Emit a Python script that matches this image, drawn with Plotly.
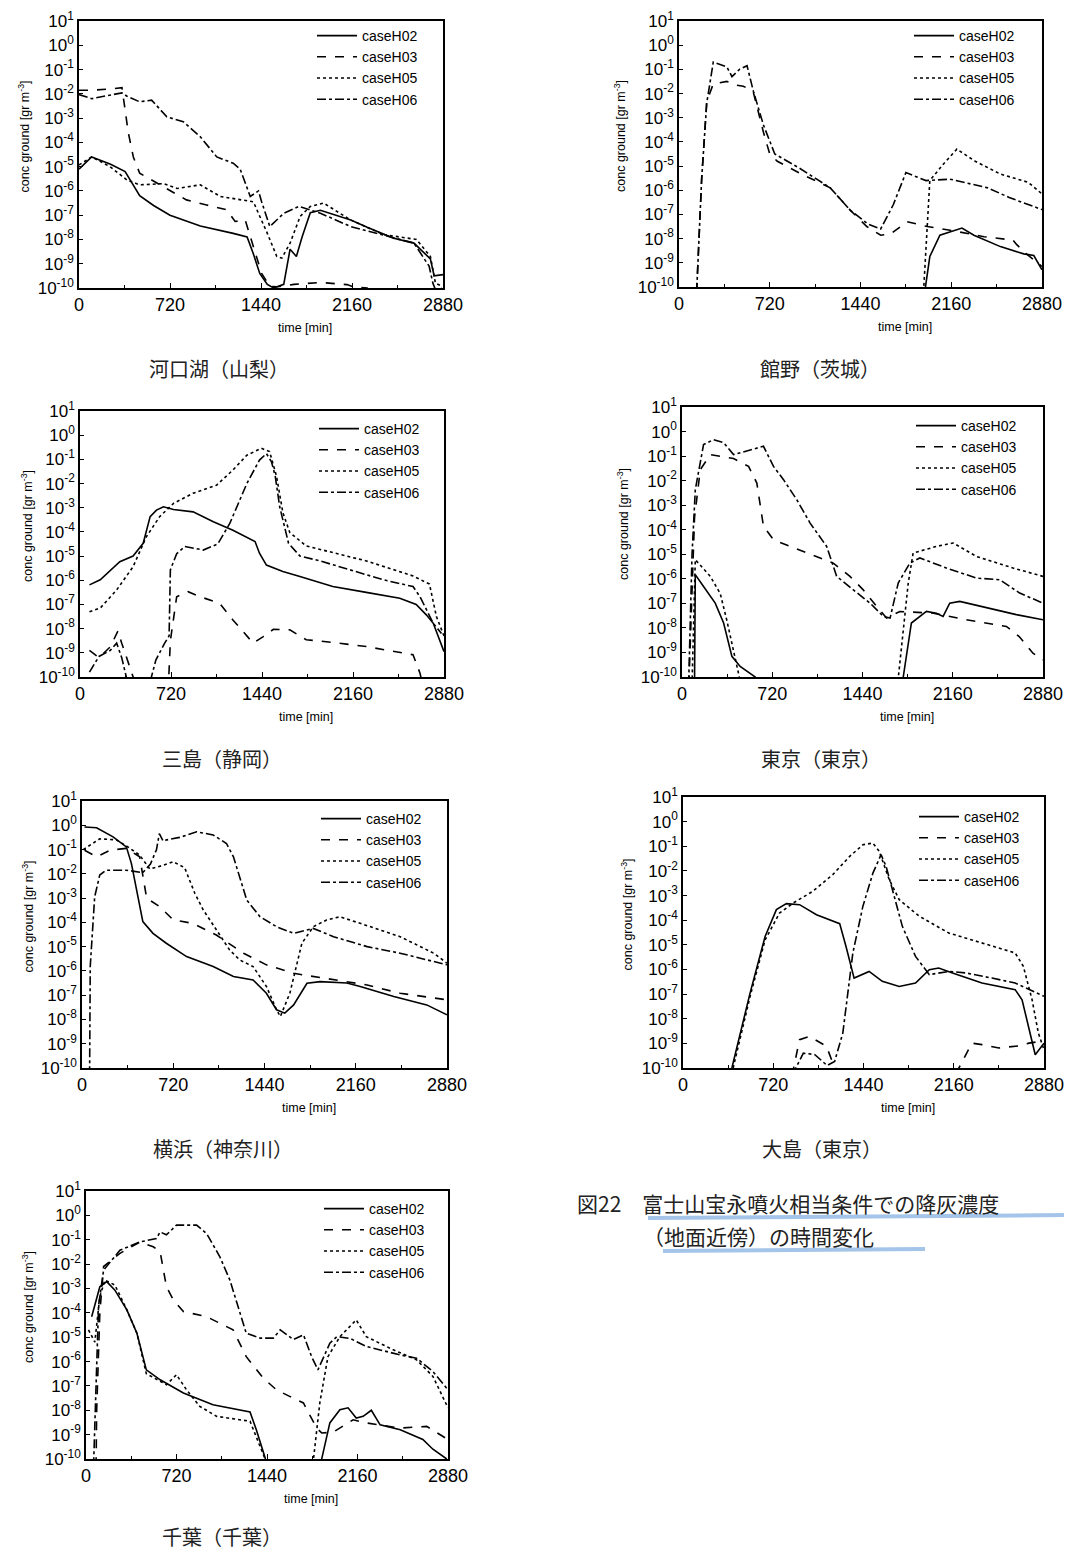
import plotly.graph_objects as go

# page body has an 8px default margin; figure is sized/offset so the window shows 1072x1555
OX, OY = 8, 8
FW, FH = 1064, 1547

# ---------------- data (time in min, log10 of concentration [gr m^-3]) ----------------
# 河口湖（山梨）
kaw_h02_t = [0, 100, 250, 365, 480, 590, 720, 960, 1220, 1330, 1380, 1430, 1490, 1540, 1620, 1670, 1720, 1765, 1830, 1910, 2150, 2280, 2490, 2650, 2780, 2810, 2880]
kaw_h02_log = [-5.1, -4.6, -4.9, -5.2, -6.2, -6.6, -7.0, -7.45, -7.75, -7.9, -8.6, -9.4, -9.85, -10.0, -9.85, -8.4, -8.7, -7.9, -6.9, -6.8, -7.2, -7.5, -7.95, -8.15, -8.8, -9.5, -9.45]
kaw_h03_t = [0, 100, 250, 340, 390, 430, 480, 575, 750, 850, 1010, 1170, 1235, 1315, 1380, 1445, 1510, 1570, 1700, 1910, 2120, 2170, 2280, 2320]
kaw_h03_log = [-1.85, -1.85, -1.8, -1.75, -3.6, -4.6, -5.27, -5.55, -6.1, -6.37, -6.58, -6.78, -7.26, -7.2, -8.3, -9.4, -9.93, -9.95, -9.85, -9.77, -9.86, -9.95, -10.0, -10.3]
kaw_h05_t = [0, 100, 245, 380, 480, 670, 775, 960, 1120, 1300, 1380, 1490, 1565, 1605, 1670, 1750, 1830, 1935, 2150, 2410, 2670, 2780, 2820, 2860, 2880]
kaw_h05_log = [-4.93, -4.6, -5.0, -5.55, -5.75, -5.7, -5.9, -5.75, -6.23, -6.37, -6.45, -7.75, -8.7, -8.77, -8.15, -7.05, -6.64, -6.5, -7.2, -7.8, -8.0, -8.7, -9.8, -9.9, -10.2]
kaw_h06_t = [0, 100, 340, 380, 480, 575, 695, 825, 960, 1090, 1220, 1275, 1355, 1420, 1445, 1510, 1620, 1740, 1910, 2150, 2280, 2490, 2650, 2770, 2800, 2830]
kaw_h06_log = [-2.03, -2.2, -1.96, -2.1, -2.33, -2.26, -2.95, -3.15, -3.77, -4.6, -4.86, -5.1, -6.23, -6.0, -6.45, -7.47, -6.92, -6.64, -6.92, -7.47, -7.65, -7.95, -8.15, -9.1, -9.8, -10.2]

# 館野（茨城）
tat_h02_t = [1950, 1990, 2070, 2150, 2245, 2340, 2550, 2735, 2815, 2880]
tat_h02_log = [-10.2, -8.74, -7.86, -7.72, -7.56, -7.86, -8.33, -8.63, -8.7, -9.29]
tat_h03_t = [140, 180, 220, 272, 380, 450, 510, 550, 590, 670, 720, 780, 960, 1200, 1360, 1490, 1600, 1680, 1810, 1970, 2150, 2420, 2650, 2680, 2750, 2880]
tat_h03_log = [-10.2, -5.5, -2.34, -1.6, -1.5, -1.65, -1.7, -1.8, -1.95, -3.6, -4.5, -4.8, -5.3, -5.9, -6.83, -7.5, -7.86, -7.8, -7.3, -7.5, -7.65, -7.92, -8.06, -8.25, -8.6, -9.15]
tat_h05_t = [1940, 1965, 1990, 2100, 2205, 2350, 2550, 2770, 2880]
tat_h05_log = [-10.2, -8.0, -5.6, -4.9, -4.3, -4.8, -5.33, -5.67, -6.15]
tat_h06_t = [140, 180, 220, 272, 380, 420, 480, 540, 590, 670, 760, 960, 1200, 1360, 1500, 1600, 1700, 1800, 1960, 2150, 2450, 2620, 2880]
tat_h06_log = [-10.2, -5.5, -2.4, -0.7, -0.9, -1.3, -1.0, -0.85, -1.9, -3.3, -4.5, -5.1, -5.9, -6.83, -7.4, -7.6, -6.6, -5.27, -5.6, -5.54, -5.9, -6.3, -6.8]

# 三島（静岡）
mis_h02_t = [75, 160, 315, 380, 420, 500, 555, 605, 660, 740, 895, 1055, 1210, 1385, 1420, 1475, 1605, 1740, 2000, 2265, 2530, 2660, 2740, 2795, 2835, 2880]
mis_h02_log = [-6.19, -5.98, -5.23, -5.1, -5.0, -4.47, -3.37, -3.1, -2.96, -3.07, -3.17, -3.58, -3.93, -4.4, -4.88, -5.37, -5.64, -5.84, -6.26, -6.5, -6.74, -7.0, -7.43, -7.78, -8.3, -8.95]
mis_h03_t = [75, 150, 240, 300, 330, 395, 440, 700, 715, 765, 855, 950, 1105, 1210, 1370, 1450, 1530, 1660, 1790, 2000, 2265, 2635, 2690, 2710]
mis_h03_log = [-8.9, -9.2, -8.75, -8.1, -8.6, -9.6, -10.3, -10.3, -8.5, -6.68, -6.47, -6.68, -6.95, -7.64, -8.6, -8.33, -8.03, -8.05, -8.46, -8.57, -8.74, -9.08, -9.84, -10.3]
mis_h05_t = [75, 160, 290, 420, 525, 630, 740, 895, 1080, 1210, 1320, 1435, 1500, 1555, 1605, 1660, 1790, 2000, 2265, 2635, 2765, 2820, 2880]
mis_h05_log = [-7.3, -7.15, -6.4, -5.44, -4.2, -3.37, -2.82, -2.4, -2.07, -1.44, -0.83, -0.54, -0.68, -1.7, -3.2, -4.03, -4.58, -4.85, -5.2, -5.82, -6.16, -7.5, -8.3]
mis_h06_t = [75, 150, 240, 290, 330, 380, 550, 600, 670, 705, 715, 765, 830, 975, 1090, 1185, 1320, 1420, 1475, 1515, 1545, 1580, 1650, 1740, 1900, 2135, 2400, 2635, 2690, 2795, 2860]
mis_h06_log = [-9.8, -9.15, -8.9, -8.6, -9.2, -10.3, -10.3, -9.3, -8.6, -8.3, -5.57, -4.9, -4.6, -4.75, -4.5, -3.65, -2.0, -1.03, -0.76, -1.1, -1.7, -2.96, -4.47, -5.0, -5.2, -5.57, -5.98, -6.26, -6.68, -7.78, -8.2]

# 東京（東京）
tok_h02_t = [100, 106, 172, 265, 332, 398, 464, 544, 584, 600, 1760, 1765, 1830, 1950, 2030, 2083, 2136, 2216, 2400, 2667, 2880]
tok_h02_log = [-10.3, -5.83, -6.31, -6.99, -7.8, -9.16, -9.57, -9.84, -10.0, -10.3, -10.3, -10.0, -7.8, -7.33, -7.4, -7.53, -6.99, -6.92, -7.13, -7.46, -7.67]
tok_h03_t = [55, 100, 146, 226, 411, 531, 597, 650, 730, 942, 1207, 1340, 1446, 1553, 1632, 1738, 2004, 2269, 2588, 2690, 2800, 2880]
tok_h03_log = [-10.3, -3.5, -1.55, -0.94, -1.1, -1.42, -2.1, -3.86, -4.41, -4.82, -5.36, -5.9, -6.45, -7.12, -7.6, -7.33, -7.4, -7.67, -7.94, -8.35, -9.03, -9.3]
tok_h05_t = [80, 106, 226, 305, 358, 398, 438, 470, 1720, 1805, 1844, 2030, 2163, 2349, 2641, 2880]
tok_h05_log = [-10.3, -5.22, -5.9, -6.6, -7.7, -8.65, -9.57, -10.3, -10.3, -6.17, -4.95, -4.68, -4.54, -5.09, -5.56, -5.9]
tok_h06_t = [53, 80, 106, 172, 252, 332, 411, 517, 650, 730, 810, 916, 1022, 1154, 1234, 1367, 1500, 1606, 1660, 1725, 1818, 1898, 2110, 2349, 2535, 2694, 2880]
tok_h06_log = [-10.3, -5.0, -2.37, -0.53, -0.33, -0.45, -0.94, -0.8, -0.6, -1.42, -1.96, -2.78, -3.73, -4.68, -5.9, -6.45, -6.99, -7.53, -7.6, -6.17, -5.36, -5.15, -5.56, -5.97, -6.04, -6.58, -6.99]

# 横浜（神奈川）
yok_h02_t = [20, 115, 245, 350, 390, 430, 480, 560, 665, 825, 1035, 1195, 1350, 1455, 1535, 1600, 1670, 1775, 1880, 2090, 2195, 2460, 2720, 2880]
yok_h02_log = [-0.07, -0.1, -0.48, -0.89, -1.58, -2.67, -3.97, -4.45, -4.86, -5.41, -5.82, -6.23, -6.37, -6.92, -7.6, -7.74, -7.4, -6.51, -6.44, -6.5, -6.64, -7.05, -7.4, -7.81]
yok_h03_t = [20, 115, 220, 350, 455, 480, 510, 615, 720, 875, 1060, 1275, 1455, 1670, 1985, 2250, 2510, 2880]
yok_h03_log = [-1.03, -1.3, -1.03, -0.95, -1.3, -2.0, -3.0, -3.36, -3.9, -4.04, -4.52, -5.27, -5.75, -6.1, -6.37, -6.58, -6.92, -7.19]
yok_h05_t = [10, 140, 270, 365, 455, 535, 640, 720, 810, 890, 955, 1060, 1165, 1245, 1350, 1455, 1535, 1565, 1640, 1735, 1825, 1930, 2035, 2195, 2510, 2775, 2880]
yok_h05_log = [-1.0, -0.56, -0.6, -0.9, -1.23, -1.8, -1.65, -1.5, -1.75, -2.8, -3.47, -4.3, -5.14, -5.55, -5.82, -6.64, -7.6, -7.88, -6.92, -4.86, -4.18, -3.9, -3.77, -4.04, -4.59, -5.27, -5.68]
yok_h06_t = [60, 65, 100, 140, 190, 350, 480, 540, 588, 610, 640, 670, 770, 905, 1035, 1140, 1195, 1245, 1300, 1405, 1535, 1670, 1825, 1985, 2250, 2510, 2775, 2880]
yok_h06_log = [-10.3, -5.82, -2.95, -2.05, -1.85, -1.85, -1.95, -1.6, -1.0, -0.34, -0.65, -0.6, -0.5, -0.27, -0.4, -0.75, -1.3, -2.12, -3.08, -3.77, -4.18, -4.45, -4.25, -4.59, -5.0, -5.27, -5.62, -5.75]

# 大島（東京）
osh_h02_t = [390, 535, 655, 745, 825, 930, 1065, 1250, 1300, 1365, 1485, 1590, 1725, 1855, 1965, 2040, 2150, 2385, 2650, 2705, 2810, 2880]
osh_h02_log = [-10.0, -6.96, -4.66, -3.57, -3.33, -3.37, -3.78, -4.14, -5.06, -6.35, -6.08, -6.48, -6.69, -6.55, -6.01, -5.94, -6.14, -6.55, -6.82, -7.23, -9.46, -8.99]
osh_h03_t = [870, 930, 1010, 1145, 1195, 1250, 2170, 2305, 2385, 2520, 2680, 2760, 2880]
osh_h03_log = [-10.3, -8.85, -8.72, -9.12, -9.8, -10.3, -10.3, -8.99, -9.05, -9.19, -9.1, -8.99, -8.9]
osh_h05_t = [400, 535, 655, 770, 880, 1035, 1195, 1330, 1435, 1515, 1565, 1645, 1725, 1885, 2120, 2385, 2650, 2715, 2785, 2835, 2880]
osh_h05_log = [-10.0, -7.1, -4.8, -3.71, -3.3, -2.83, -2.15, -1.41, -0.94, -0.87, -1.2, -2.35, -3.17, -3.84, -4.52, -4.93, -5.33, -5.87, -7.23, -8.58, -9.26]
osh_h06_t = [870, 960, 1050, 1150, 1210, 1275, 1355, 1435, 1515, 1580, 1620, 1670, 1750, 1855, 1965, 2120, 2255, 2465, 2650, 2880]
osh_h06_log = [-10.3, -9.4, -9.45, -9.9, -9.73, -8.58, -5.33, -3.44, -2.09, -1.34, -1.81, -2.76, -4.25, -5.47, -6.21, -6.08, -6.14, -6.35, -6.55, -7.09]

# 千葉（千葉）
chi_h02_t = [45, 110, 165, 230, 325, 405, 480, 590, 775, 1010, 1305, 1355, 1425, 1440, 1870, 1875, 1940, 2020, 2085, 2150, 2205, 2270, 2340, 2500, 2680, 2760, 2870]
chi_h02_log = [-4.16, -2.93, -2.72, -3.07, -3.88, -4.84, -6.34, -6.75, -7.29, -7.77, -8.07, -8.8, -9.95, -10.3, -10.3, -10.0, -8.52, -7.98, -7.9, -8.32, -8.25, -8.0, -8.6, -8.8, -9.2, -9.6, -10.0]
chi_h03_t = [80, 85, 110, 140, 270, 430, 535, 590, 640, 695, 775, 960, 1170, 1275, 1410, 1515, 1620, 1730, 1835, 1875, 1965, 2125, 2230, 2500, 2710, 2880]
chi_h03_log = [-10.3, -8.0, -4.0, -2.1, -1.56, -1.09, -1.29, -1.5, -2.93, -3.47, -3.95, -4.16, -4.7, -5.8, -6.68, -7.16, -7.43, -7.7, -8.73, -8.93, -8.9, -8.39, -8.52, -8.73, -8.66, -9.2]
chi_h05_t = [20, 70, 110, 150, 230, 325, 405, 480, 640, 720, 800, 905, 1040, 1305, 1425, 1440, 1800, 1810, 1860, 1925, 2020, 2150, 2230, 2445, 2630, 2760, 2880]
chi_h05_log = [-4.7, -5.2, -3.34, -2.66, -2.86, -3.88, -4.84, -6.5, -6.95, -6.54, -7.16, -7.84, -8.25, -8.45, -10.0, -10.3, -10.3, -10.0, -7.7, -5.8, -4.98, -4.29, -4.98, -5.52, -5.93, -6.61, -7.9]
chi_h06_t = [60, 100, 140, 270, 430, 560, 590, 640, 720, 880, 960, 1065, 1145, 1225, 1275, 1385, 1490, 1545, 1650, 1730, 1795, 1845, 1940, 1995, 2100, 2230, 2500, 2630, 2760, 2880]
chi_h06_log = [-10.3, -3.7, -2.25, -1.43, -1.09, -0.95, -0.68, -0.8, -0.4, -0.4, -0.75, -1.7, -2.66, -4.02, -4.84, -5.04, -5.04, -4.7, -5.1, -4.9, -5.8, -6.34, -5.25, -4.98, -5.05, -5.38, -5.73, -5.86, -6.41, -7.16]

series_names = ["caseH02", "caseH03", "caseH05", "caseH06"]
x_tick_vals = [0, 720, 1440, 2160, 2880]
x_minor_vals = [360, 1080, 1800, 2520]
y_exponents = list(range(-10, 2))
station_titles = ["河口湖（山梨）", "館野（茨城）", "三島（静岡）", "東京（東京）",
                  "横浜（神奈川）", "大島（東京）", "千葉（千葉）"]
caption_line1 = "図22　富士山宝永噴火相当条件での降灰濃度"
caption_line2 = "（地面近傍）の時間変化"

# ---------------- layout geometry (window pixels) ----------------
panel_data = [
    [(kaw_h02_t, kaw_h02_log), (kaw_h03_t, kaw_h03_log), (kaw_h05_t, kaw_h05_log), (kaw_h06_t, kaw_h06_log)],
    [(tat_h02_t, tat_h02_log), (tat_h03_t, tat_h03_log), (tat_h05_t, tat_h05_log), (tat_h06_t, tat_h06_log)],
    [(mis_h02_t, mis_h02_log), (mis_h03_t, mis_h03_log), (mis_h05_t, mis_h05_log), (mis_h06_t, mis_h06_log)],
    [(tok_h02_t, tok_h02_log), (tok_h03_t, tok_h03_log), (tok_h05_t, tok_h05_log), (tok_h06_t, tok_h06_log)],
    [(yok_h02_t, yok_h02_log), (yok_h03_t, yok_h03_log), (yok_h05_t, yok_h05_log), (yok_h06_t, yok_h06_log)],
    [(osh_h02_t, osh_h02_log), (osh_h03_t, osh_h03_log), (osh_h05_t, osh_h05_log), (osh_h06_t, osh_h06_log)],
    [(chi_h02_t, chi_h02_log), (chi_h03_t, chi_h03_log), (chi_h05_t, chi_h05_log), (chi_h06_t, chi_h06_log)],
]
# plot boxes: (left, right, top, bottom)
boxes = [(79, 443, 21, 288), (679, 1042, 21, 287),
         (80, 444, 411, 677), (682, 1043, 407, 677),
         (82, 447, 801, 1068), (683, 1044, 797, 1068),
         (86, 448, 1191, 1459)]
legend_pos = [(312, 20), (909, 20), (314, 413), (911, 410), (316, 803), (914, 801), (319, 1193)]
title_pos = [(219, 368), (820, 368), (222, 758), (821, 758), (223, 1148), (822, 1148), (222, 1536)]
ytitle_x = [23, 620, 27, 623, 27, 626, 28]

dashes = ["solid", "dash", "dot", "dashdot"]
FONT = "Liberation Sans, Arial, sans-serif"
CJK = "Noto Sans CJK JP"


def px(x):
    return (x - OX) / FW


def py(y):
    return 1 - (y - OY) / FH


fig = go.Figure()
layout = dict(width=FW, height=FH,
              margin=dict(l=0, r=0, t=0, b=0, pad=0, autoexpand=False),
              paper_bgcolor="white", plot_bgcolor="white",
              font=dict(family=FONT, color="black"))
annotations = []

for i, (series, box) in enumerate(zip(panel_data, boxes)):
    n = i + 1
    sfx = "" if n == 1 else str(n)
    leg = "legend" if n == 1 else f"legend{n}"
    for name, dash, (t, lg) in zip(series_names, dashes, series):
        fig.add_trace(go.Scatter(
            x=t, y=[10 ** v for v in lg], mode="lines", name=name,
            line=dict(color="black", width=1.6, dash=dash),
            xaxis=f"x{sfx}", yaxis=f"y{sfx}", legend=leg, showlegend=True))
    l, r, t0, b = box
    layout[f"xaxis{sfx}"] = dict(
        domain=[px(l), px(r)], anchor=f"y{sfx}", range=[0, 2880], automargin=False,
        tickvals=x_tick_vals, ticktext=[str(v) for v in x_tick_vals],
        ticks="inside", ticklen=5, tickwidth=1.2, tickcolor="black",
        minor=dict(tickvals=x_minor_vals, ticks="inside", ticklen=3, tickcolor="black"),
        showline=True, linecolor="black", linewidth=1.6, mirror=True,
        showgrid=False, zeroline=False, ticklabeloverflow="allow",
        tickfont=dict(size=18, family=FONT, color="black"))
    layout[f"yaxis{sfx}"] = dict(
        domain=[py(b), py(t0)], anchor=f"x{sfx}", type="log", range=[-10, 1], automargin=False,
        tickvals=[10.0 ** k for k in y_exponents],
        ticktext=[f"10<sup>{k}</sup>" for k in y_exponents],
        ticks="inside", ticklen=4, tickwidth=1.2, tickcolor="black",
        showline=True, linecolor="black", linewidth=1.6, mirror=True,
        showgrid=False, zeroline=False, ticklabeloverflow="allow",
        tickfont=dict(size=17, family=FONT, color="black"))
    lx, ly = legend_pos[i]
    layout[leg] = dict(x=px(lx), y=py(ly), xanchor="left", yanchor="top",
                       bgcolor="rgba(0,0,0,0)", borderwidth=0,
                       font=dict(size=14, family=FONT, color="black"),
                       tracegroupgap=0, itemwidth=40)
    # axis titles
    annotations.append(dict(
        x=px(ytitle_x[i]), y=py((t0 + b) / 2 - 18), xref="paper", yref="paper",
        text="conc ground [gr m<sup>-3</sup>]", textangle=-90, showarrow=False,
        font=dict(size=12.5, family=FONT, color="black"), xanchor="center", yanchor="middle"))
    annotations.append(dict(
        x=px((l + r) / 2 + 44), y=py(b + 40), xref="paper", yref="paper",
        text="time [min]", showarrow=False,
        font=dict(size=12.5, family=FONT, color="black"), xanchor="center", yanchor="middle"))
    tx, ty = title_pos[i]
    annotations.append(dict(
        x=px(tx), y=py(ty), xref="paper", yref="paper", text=station_titles[i],
        showarrow=False, font=dict(size=20, family=CJK, color="#222"),
        xanchor="center", yanchor="middle"))

# figure caption
annotations.append(dict(x=px(575), y=py(1203), xref="paper", yref="paper",
                        text=caption_line1, showarrow=False, xanchor="left", yanchor="middle",
                        font=dict(size=21, family=CJK, color="#222")))
annotations.append(dict(x=px(641), y=py(1236), xref="paper", yref="paper",
                        text=caption_line2, showarrow=False, xanchor="left", yanchor="middle",
                        font=dict(size=21, family=CJK, color="#222")))
layout["annotations"] = annotations
layout["shapes"] = [
    dict(type="line", xref="paper", yref="paper", x0=px(648), x1=px(1072), y0=py(1218), y1=py(1215),
         line=dict(color="rgba(90,150,215,0.55)", width=4)),
    dict(type="line", xref="paper", yref="paper", x0=px(663), x1=px(925), y0=py(1251), y1=py(1249),
         line=dict(color="rgba(90,150,215,0.55)", width=4)),
]

fig.update_layout(**layout)
fig.write_html("out.html")
